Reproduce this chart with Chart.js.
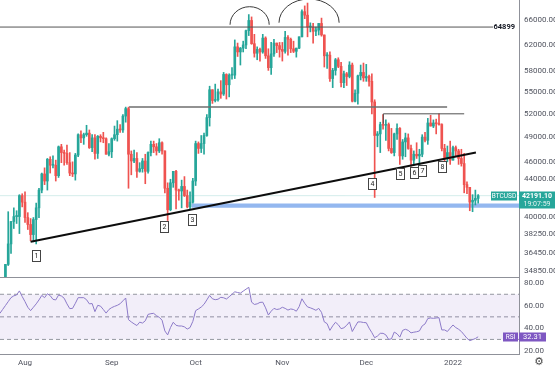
<!DOCTYPE html>
<html>
<head>
<meta charset="utf-8">
<script src="https://cdn.jsdelivr.net/npm/chart.js@4.4.0/dist/chart.umd.min.js"></script>
<style>
html, body { margin: 0; padding: 0; background: #fff; overflow: hidden; }
canvas { display: block; }
</style>
</head>
<body>
<canvas id="priceChart" width="555" height="278"></canvas>
<canvas id="rsiChart" width="555" height="92"></canvas>
<script>
// day numbers count from 1 Aug 2021 (day 0); first candle is 25 Jul 2021
var firstCandleDay = -7;
var firstRsiDay = -9;

var monthDays = [0, 31, 61, 92, 122, 153];
var monthLabels = ['Aug', 'Sep', 'Oct', 'Nov', 'Dec', '2022'];
var priceTicks = [34850, 36450, 38250, 40000, 44000, 46000, 49000, 52000, 55000, 58000, 62000, 66000];
var rsiTicks = [20, 40, 60, 80];

var opens = [
  34300, 35400, 37300, 39500, 40000, 40000, 42200,
  41500, 39900, 39200, 38200, 39700, 40900, 42800, 44600, 43800, 46300, 45600, 45600, 44400, 47800, 47100, 47000, 45900, 44700, 44600, 46800, 49300, 48900, 49300, 49500, 47700, 48900, 47000, 49100, 48900, 48800, 46900,
  47200, 48800, 49300, 50000, 49900, 51700, 52700, 46900, 46100, 46400, 44900, 45200, 46100, 44900, 47100, 48100, 47800, 47300, 48300, 47300, 43000, 40700, 43600, 44900, 42800, 42700, 43200, 42200, 41000, 41500,
  43800, 48200, 47600, 48200, 49200, 51500, 55300, 53800, 53900, 55000, 54700, 57500, 56000, 57400, 57400, 61700, 60900, 61500, 62000, 64300, 66000, 62200, 60700, 61300, 60900, 63100, 60300, 58500, 60600, 62300, 61900,
  61300, 61000, 63200, 62900, 61400, 61000, 61500, 63300, 67500, 66900, 64900, 64900, 64200, 64400, 65500, 63600, 60300, 60400, 56900, 58100, 59700, 58700, 56300, 57600, 57200, 58900, 53700, 54800, 57300, 57800,
  57000, 57200, 56500, 53600, 49200, 49400, 50600, 50500, 50600, 47600, 47100, 49400, 50100, 46700, 48400, 48900, 47600, 46200, 46900, 46700, 46900, 49000, 48600, 50800, 50400, 50800, 50700, 50600, 47600, 46500, 47100,
  46200, 47700, 47300, 46400, 45800, 43400, 43100, 41500, 41700, 41900
];
var highs = [
  35400, 40500, 39500, 40900, 40600, 42300, 42400,
  42600, 40400, 39800, 39900, 41400, 43000, 44700, 45300, 46400, 46600, 46700, 46200, 47900, 48100, 47400, 48000, 47100, 46000, 47000, 49400, 49800, 49500, 50500, 49900, 49300, 49300, 49200, 49300, 49600, 48900, 48200,
  48900, 50400, 51100, 50600, 51900, 52900, 52900, 47300, 47400, 47100, 45900, 46400, 46900, 47200, 48500, 48500, 48200, 48800, 48400, 47300, 43600, 44000, 44900, 45000, 42900, 43900, 44300, 42800, 42600, 44100,
  48500, 48400, 49200, 49500, 51900, 55800, 55300, 56100, 55400, 56600, 57800, 57600, 57600, 58500, 62800, 62300, 61600, 62600, 64400, 67000, 66600, 63700, 61700, 61500, 63700, 63300, 61400, 62400, 62900, 62300, 62400,
  62400, 64200, 63500, 63100, 62600, 61500, 63300, 67800, 68500, 69000, 65600, 65500, 64900, 65500, 66400, 63600, 60800, 60900, 58400, 59900, 60000, 59300, 58000, 57800, 59400, 59200, 55300, 57400, 58900, 59200,
  59000, 57400, 57600, 53900, 49700, 50900, 51900, 51200, 50800, 50100, 49500, 50700, 50200, 48700, 49500, 49400, 48000, 47300, 48300, 47500, 49300, 49600, 51400, 51800, 51200, 51300, 52000, 50700, 48100, 47900, 48500,
  47900, 47900, 47500, 47500, 47000, 43700, 43100, 42300, 42800, 42300
];
var lows = [
  33900, 35300, 36400, 38800, 39300, 38300, 41000,
  39400, 38700, 37600, 37500, 37300, 39900, 42500, 43400, 42800, 44700, 45300, 43800, 44200, 45900, 45600, 45700, 44400, 44300, 43900, 46600, 48300, 48100, 49100, 47600, 47200, 46300, 46400, 48400, 48300, 46900, 46700,
  46500, 48600, 48500, 49600, 49600, 50900, 43000, 44500, 45900, 44200, 44800, 44800, 43500, 44700, 46700, 47100, 46800, 47100, 46900, 42500, 39600, 40600, 43100, 40800, 41700, 40900, 42100, 40900, 40800, 41400,
  43300, 47000, 47100, 46900, 49100, 50400, 53400, 53600, 53700, 54100, 54500, 54000, 54300, 56800, 56900, 60200, 58900, 60900, 61400, 63500, 62100, 60100, 59700, 59500, 60700, 59900, 58100, 57500, 60200, 60800, 60100,
  59500, 60700, 60400, 60800, 60800, 60100, 61400, 63300, 66300, 63300, 64100, 62300, 63500, 63600, 63400, 58600, 58400, 56500, 55600, 57400, 58500, 55700, 55600, 55900, 57000, 53600, 53600, 53300, 56700, 56500,
  56500, 55800, 52000, 42000, 47800, 47100, 50000, 48600, 47300, 47000, 46700, 48700, 45700, 46300, 46600, 47500, 45500, 45600, 46400, 45600, 46600, 48400, 48100, 50400, 50200, 49400, 50500, 47300, 46100, 46000, 45700,
  46200, 46700, 45700, 45500, 42500, 42400, 40600, 40500, 41200, 41400
];
var closes = [
  35400, 37300, 39500, 40000, 40010, 42200, 41500,
  39900, 39200, 38200, 39700, 40900, 42800, 44600, 43800, 46300, 45600, 45650, 44400, 47800, 47100, 47000, 45900, 44700, 44600, 46800, 49300, 48900, 49300, 49500, 47700, 48900, 47000, 49100, 48900, 48800, 46900, 47200,
  48800, 49300, 50000, 49900, 51700, 52700, 46900, 46100, 46400, 44900, 45200, 46100, 44900, 47100, 48100, 47800, 47300, 48300, 47300, 43000, 40700, 43600, 44900, 42800, 42700, 43200, 42200, 41000, 41500, 43800,
  48200, 47600, 48200, 49200, 51500, 55300, 53800, 53900, 55000, 54700, 57500, 56000, 57400, 57400, 61700, 60900, 61500, 62000, 64300, 66000, 62200, 60700, 61300, 60900, 63100, 60300, 58500, 60600, 62300, 61900, 61300,
  61000, 63200, 62900, 61400, 61000, 61500, 63300, 67500, 66900, 64900, 64950, 64200, 64400, 65500, 63600, 60300, 60400, 56900, 58100, 59700, 58700, 56300, 57600, 57200, 58900, 53700, 54800, 57300, 57800, 57000,
  57200, 56500, 53600, 49200, 49400, 50600, 50500, 50600, 47600, 47100, 49400, 50100, 46700, 48400, 48900, 47600, 46200, 46900, 46700, 46900, 49000, 48600, 50800, 50400, 50800, 50700, 50600, 47600, 46500, 47100, 46200,
  47700, 47300, 46400, 45800, 43400, 43100, 41500, 41700, 41900, 42191.1
];

var rsiValues = [
  53, 56.5, 60, 63.5, 67, 68.6, 69.4, 73, 68,
  63.5, 58.5, 55.5, 58.5, 61.5, 65, 69, 67, 70.5, 68.8,
  65.5, 65, 69.3, 68.5, 66.5, 61.5, 57.3, 57.5, 62, 67,
  67, 67, 65.2, 61.5, 61.8, 54.6, 60.2, 59.5, 56.5, 53.3,
  56.5, 58.2, 59.3, 60.2, 61.6, 64.2, 66.7, 47.5, 45.5, 43.8,
  42.3, 45.3, 44.5, 46.5, 52.2, 52.8, 53.1, 51, 49.6, 47,
  37.5, 34, 40.5, 45.2, 42.5, 41.9, 41.9, 41.1, 39.2, 40.5,
  46, 55.5, 57, 58.7, 61.1, 65, 69, 66, 65.2, 65.6,
  67.3, 66.9, 65.8, 67.8, 70, 72.2, 71.6, 71, 72.8, 74.5,
  76.2, 63, 61, 61.5, 62.8, 63, 58, 51.6, 55, 57.5,
  56.5, 57, 58.5, 57.5, 56, 57, 56.5, 55, 59, 66,
  62, 58.8, 58, 57, 55.8, 57.5, 54, 45.5, 44, 38,
  42, 45.2, 43, 39.5, 40.3, 42.5, 45.5, 37, 41.3, 45.5,
  45.5, 45, 44.8, 40, 36, 31.5, 33, 35.4, 35.4, 34,
  30, 30.5, 36.5, 35, 32, 38, 39, 38, 35.8, 36.4,
  36.8, 37.5, 42, 43.7, 48.5, 49, 48.7, 49, 49.3, 38.4,
  38.4, 37, 40, 42.8, 40.5, 39, 37, 34, 31, 28.9,
  29.8, 30.8, 32.31
];

// drawings on the price panel (day, price)
var levelTop = 64899;
var trendLine = [{ x: 2.0, y: 37500 }, { x: 161.2, y: 47110 }];
var septLevel = [{ x: 37.2, y: 52900 }, { x: 150.9, y: 52900 }];
var decLevel = [{ x: 128.1, y: 50700 }, { x: 128.1, y: 52000 }, { x: 157, y: 52000 }];
var supportZone = { from: 59.5, low: 40900, high: 41350 };
var arcs = [
  { from: 73.3, to: 87.3, base: 65280, top: 68360 },
  { from: 90.8, to: 112.3, base: 65620, top: 69720 }
];
var pointLabels = [
  { text: '1', day: 3.8, price: 36190 },
  { text: '2', day: 49.8, price: 38980 },
  { text: '3', day: 59.8, price: 39650 },
  { text: '4', day: 124, price: 43470 },
  { text: '5', day: 134.1, price: 44590 },
  { text: '6', day: 139.1, price: 44670 },
  { text: '7', day: 142, price: 44970 },
  { text: '8', day: 149, price: 45430 }
];

var xMin = -8.937, xMax = 176.6;
var priceMin = 34280, priceMax = 69540;
var rsiMin = 17.07, rsiMax = 84.43;

var upColor = '#26a69a';
var downColor = '#ef5350';
var textColor = '#50535e';
var axisLine = '#8f9199';
var font = "'Liberation Sans Narrow', Roboto, sans-serif";

var candleColors = closes.map(function (c, i) { return c >= opens[i] ? upColor : downColor; });
var wickData = lows.map(function (l, i) { return { x: firstCandleDay + i, y: [l, highs[i]] }; });
var bodyData = opens.map(function (o, i) { return { x: firstCandleDay + i, y: [o, closes[i]] }; });
var lastClose = closes[closes.length - 1];
var lastRsi = rsiValues[rsiValues.length - 1];

function lineSet(points, color, width, order) {
  return { type: 'line', data: points, borderColor: color, borderWidth: width, pointRadius: 0, fill: false, order: order, tension: 0 };
}

var overlayPlugin = {
  id: 'overlay',
  afterDatasetsDraw: function (chart) {
    var ctx = chart.ctx, xs = chart.scales.x, ys = chart.scales.y, area = chart.chartArea;
    ctx.save();
    ctx.beginPath();
    ctx.rect(area.left, area.top, area.right - area.left, area.bottom - area.top);
    ctx.clip();
    ctx.strokeStyle = '#3a3a3a';
    ctx.lineWidth = 1;
    arcs.forEach(function (a) {
      var x1 = xs.getPixelForValue(a.from), x2 = xs.getPixelForValue(a.to);
      var yb = ys.getPixelForValue(a.base), yt = ys.getPixelForValue(a.top);
      ctx.beginPath();
      ctx.ellipse((x1 + x2) / 2, yb, (x2 - x1) / 2, yb - yt, 0, Math.PI, 2 * Math.PI);
      ctx.stroke();
    });
    ctx.font = '7px ' + font;
    ctx.textAlign = 'center';
    ctx.textBaseline = 'middle';
    pointLabels.forEach(function (p) {
      var x = Math.round(xs.getPixelForValue(p.day)), y = Math.round(ys.getPixelForValue(p.price));
      ctx.fillStyle = '#fff';
      ctx.fillRect(x - 3.5, y - 5.5, 8, 11);
      ctx.strokeStyle = '#444';
      ctx.strokeRect(x - 3.5, y - 5.5, 8, 11);
      ctx.fillStyle = '#222';
      ctx.fillText(p.text, x + 0.5, y + 0.5);
    });
    ctx.restore();

    ctx.save();
    var yl = ys.getPixelForValue(levelTop);
    ctx.font = 'bold 7.5px ' + font;
    ctx.fillStyle = '#131722';
    ctx.textAlign = 'right';
    ctx.textBaseline = 'middle';
    ctx.fillText(String(levelTop), area.right - 4, yl + 0.5);
    ctx.restore();
  },
  afterDraw: function (chart) {
    var ctx = chart.ctx, ys = chart.scales.y, area = chart.chartArea;
    var y = Math.round(ys.getPixelForValue(lastClose));
    ctx.save();
    ctx.fillStyle = upColor;
    ctx.fillRect(area.right - 28, y - 4.5, 26, 9);
    ctx.fillRect(area.right, y - 4.5, 36, 17);
    ctx.fillStyle = '#fff';
    ctx.textBaseline = 'middle';
    ctx.textAlign = 'center';
    ctx.font = '6.5px ' + font;
    ctx.fillText('BTCUSD', area.right - 15, y + 0.5);
    ctx.font = 'bold 7px ' + font;
    ctx.fillText(lastClose.toFixed(2), area.right + 18, y);
    ctx.font = '7px ' + font;
    ctx.fillStyle = '#e4f4f2';
    ctx.fillText('19:07:59', area.right + 18, y + 8);
    ctx.restore();
  }
};

var priceChart = new Chart(document.getElementById('priceChart').getContext('2d'), {
  type: 'bar',
  data: {
    datasets: [
      lineSet([{ x: xMin, y: levelTop }, { x: 167.3, y: levelTop }], '#555', 1, 1),
      lineSet([{ x: xMin, y: lastClose }, { x: xMax, y: lastClose }], 'rgba(38,166,154,0.2)', 1, 5),
      lineSet([{ x: supportZone.from, y: supportZone.low }, { x: xMax, y: supportZone.low }], 'rgba(0,0,0,0)', 0, 4),
      {
        type: 'line', data: [{ x: supportZone.from, y: supportZone.high }, { x: xMax, y: supportZone.high }],
        borderWidth: 0, pointRadius: 0, fill: '-1', backgroundColor: '#93b7ef', order: 4
      },
      lineSet(septLevel, '#6e6e6e', 1.5, 1),
      lineSet(decLevel, '#505050', 1, 1),
      lineSet(trendLine, '#0d0d0d', 2, 0),
      {
        type: 'bar', data: wickData, backgroundColor: candleColors, barThickness: 1,
        grouped: false, order: 3
      },
      {
        type: 'bar', data: bodyData, backgroundColor: candleColors, barThickness: 2,
        grouped: false, minBarLength: 1, order: 2
      }
    ]
  },
  options: {
    responsive: false,
    animation: false,
    layout: { padding: 0 },
    plugins: { legend: { display: false }, tooltip: { enabled: false } },
    scales: {
      x: {
        type: 'linear', min: xMin, max: xMax, offset: false,
        ticks: { display: false },
        grid: { display: false, drawTicks: false },
        border: { display: true, color: axisLine },
        afterFit: function (s) { s.height = 1; s.paddingLeft = 0; s.paddingRight = 0; }
      },
      y: {
        type: 'logarithmic', position: 'right', min: priceMin, max: priceMax,
        grid: { display: false, drawTicks: false },
        border: { display: true, color: axisLine },
        ticks: {
          padding: 5, color: textColor, font: { family: font, size: 8 },
          callback: function (v) { return Number(v).toFixed(2); }
        },
        afterBuildTicks: function (s) { s.ticks = priceTicks.map(function (v) { return { value: v }; }); },
        afterFit: function (s) { s.width = 36; s.paddingTop = 0; s.paddingBottom = 0; }
      }
    }
  },
  plugins: [overlayPlugin]
});

var rsiPoints = rsiValues.map(function (v, i) { return { x: firstRsiDay + i, y: v }; });

var rsiPlugin = {
  id: 'rsiTags',
  afterDraw: function (chart) {
    var ctx = chart.ctx, ys = chart.scales.y, area = chart.chartArea;
    var y = Math.round(ys.getPixelForValue(lastRsi));
    ctx.save();
    ctx.fillStyle = '#7e57c2';
    ctx.fillRect(area.right - 16, y - 4.5, 15, 9);
    ctx.fillRect(area.right, y - 4.5, 27, 9);
    ctx.fillStyle = '#fff';
    ctx.textBaseline = 'middle';
    ctx.textAlign = 'center';
    ctx.font = '6.5px ' + font;
    ctx.fillText('RSI', area.right - 8.5, y + 0.5);
    ctx.font = '7.5px ' + font;
    ctx.fillText(lastRsi.toFixed(2), area.right + 13.5, y + 0.5);
    ctx.fillStyle = '#4a4a4a';
    ctx.font = '11px "DejaVu Sans"';
    ctx.fillText('\u2699', area.right + 20, area.bottom + 8);
    ctx.restore();
  }
};

function dashed(v, extra) {
  var d = {
    type: 'line', data: [{ x: xMin, y: v }, { x: xMax, y: v }], borderColor: '#9598a1',
    borderWidth: 1, borderDash: [4, 3], pointRadius: 0, fill: false
  };
  for (var k in extra) d[k] = extra[k];
  return d;
}

var rsiChart = new Chart(document.getElementById('rsiChart').getContext('2d'), {
  type: 'line',
  data: {
    datasets: [
      dashed(70, { order: 2 }),
      dashed(30, { fill: '-1', backgroundColor: 'rgba(126,87,194,0.1)', order: 2 }),
      dashed(50, { order: 2 }),
      {
        data: rsiPoints, borderColor: '#8c7ac8', borderWidth: 1, pointRadius: 0,
        fill: false, tension: 0, order: 0
      }
    ]
  },
  options: {
    responsive: false,
    animation: false,
    layout: { padding: 0 },
    plugins: { legend: { display: false }, tooltip: { enabled: false } },
    scales: {
      x: {
        type: 'linear', min: xMin, max: xMax, offset: false,
        grid: { display: false, drawTicks: false },
        border: { display: true, color: axisLine },
        ticks: {
          padding: 4, color: textColor, font: { family: font, size: 8 }, autoSkip: false, maxRotation: 0,
          callback: function (v) { return monthLabels[monthDays.indexOf(v)]; }
        },
        afterBuildTicks: function (s) { s.ticks = monthDays.map(function (v) { return { value: v }; }); },
        afterFit: function (s) { s.height = 16; s.paddingLeft = 0; s.paddingRight = 0; }
      },
      y: {
        type: 'linear', position: 'right', min: rsiMin, max: rsiMax,
        grid: { display: false, drawTicks: false },
        border: { display: true, color: axisLine },
        ticks: {
          padding: 5, color: textColor, font: { family: font, size: 8 },
          callback: function (v) { return Number(v).toFixed(2); }
        },
        afterBuildTicks: function (s) { s.ticks = rsiTicks.map(function (v) { return { value: v }; }); },
        afterFit: function (s) { s.width = 36; s.paddingTop = 0; s.paddingBottom = 0; }
      }
    }
  },
  plugins: [rsiPlugin]
});
</script>
</body>
</html>
